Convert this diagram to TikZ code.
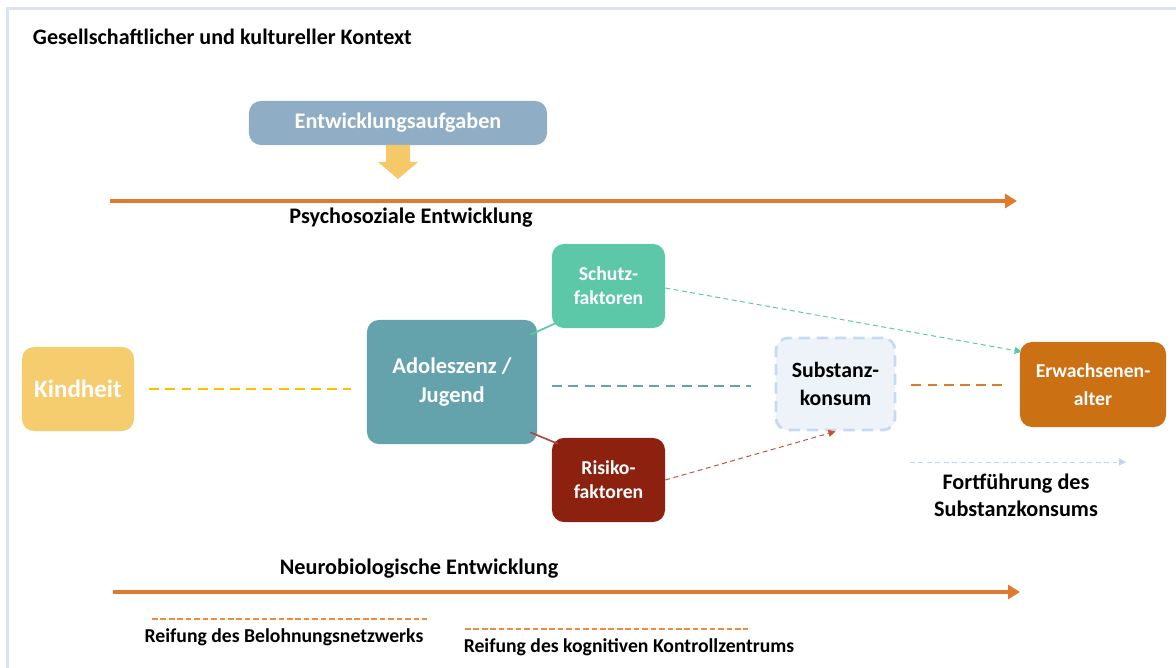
\documentclass[tikz,border=0pt]{standalone}
\usepackage{fontspec}
\setmainfont{Carlito}
\usetikzlibrary{positioning,arrows.meta}
\definecolor{framecol}{RGB}{218,227,243}
\definecolor{taskcol}{RGB}{143,173,196}
\definecolor{taskarrow}{RGB}{245,200,105}
\definecolor{devline}{RGB}{226,122,44}
\definecolor{childcol}{RGB}{245,204,110}
\definecolor{childdash}{RGB}{255,192,0}
\definecolor{youthcol}{RGB}{101,163,172}
\definecolor{protcol}{RGB}{92,200,168}
\definecolor{riskcol}{RGB}{140,33,16}
\definecolor{riskarrow}{RGB}{200,80,60}
\definecolor{substfill}{RGB}{238,243,250}
\definecolor{substdraw}{RGB}{200,218,238}
\definecolor{adultcol}{RGB}{204,112,20}
\definecolor{adultdash}{RGB}{214,126,40}
\definecolor{contcol}{RGB}{189,215,238}
\definecolor{matcol}{RGB}{240,140,60}
\tikzset{
x=0.025cm, y=-0.025cm,
every node/.style={font=\bfseries},
phase/.style={rounded corners=0.3cm, text=white, align=center, inner sep=2pt},
factor/.style={phase, minimum width=2.825cm, minimum height=2.1cm, font=\bfseries\fontsize{14}{17}\selectfont},
devarrow/.style={devline, line width=2.8pt, -{Triangle[length=0.3cm,width=0.35cm]}},
phasedash/.style={line width=1.8pt, dash pattern=on 7pt off 4.5pt},
thinarrow/.style={line width=0.7pt, dash pattern=on 3.5pt off 2.5pt, -{Triangle[length=5pt,width=5pt]}},
maturing/.style={matcol, line width=1.2pt, dash pattern=on 4pt off 2pt},
caption/.style={font=\bfseries\fontsize{15.8}{19}\selectfont},
small caption/.style={font=\bfseries\fontsize{14}{16}\selectfont},
}
\begin{document}
\begin{tikzpicture}
    \useasboundingbox (0,0) rectangle (1176,668);
    \begin{scope}
        \clip (0,0) rectangle (1176,668);
        \draw[framecol, line width=1.5pt] (7.5,8.5) rectangle (1200,700);
    \end{scope}
    \node[anchor=west, font=\bfseries\fontsize{15.7}{18}\selectfont] (context) at (28,37) {Gesellschaftlicher und kultureller Kontext};

    % tasks and psychosocial line
    \node[phase, fill=taskcol, minimum width=7.45cm, minimum height=1.1cm, font=\bfseries\fontsize{15.8}{18}\selectfont] (tasks) at (398,123) {Entwicklungsaufgaben};
    \fill[taskarrow] (386,145) -- (410,145) -- (410,162) -- (418,162) -- (398,179) -- (378,162) -- (386,162) -- cycle;
    \coordinate (psyA) at (110,201);
    \coordinate (psyB) at (1017,201);
    \draw[devarrow] (psyA) -- (psyB);
    \node[caption] (psylabel) at (411,218) {Psychosoziale Entwicklung};

    % phases
    \node[phase, fill=childcol, minimum width=2.8cm, minimum height=2.1cm, font=\bfseries\fontsize{17.8}{20}\selectfont] (child) at (78,389) {Kindheit};
    \node[phase, fill=youthcol, minimum width=4.25cm, minimum height=3.1cm, font=\bfseries\fontsize{16}{21}\selectfont] (youth) at (452,382) {Adoleszenz /\\Jugend};
    \node[factor, fill=protcol] (prot) at (608.5,286) {Schutz-\\faktoren};
    \node[factor, fill=riskcol] (risk) at (608.5,480) {Risiko-\\faktoren};
    \node[phase, fill=substfill, draw=substdraw, line width=2pt, dash pattern=on 8pt off 5pt, text=black, minimum width=2.975cm, minimum height=2.3cm, font=\bfseries\fontsize{15.5}{20}\selectfont] (subst) at (835.5,384) {Substanz-\\konsum};
    \node[phase, fill=adultcol, minimum width=3.65cm, minimum height=2.125cm, font=\bfseries\fontsize{14}{20}\selectfont] (adult) at (1093,384.5) {Erwachsenen-\\alter};

    % connectors
    \draw[childdash, phasedash] ([xshift=0.375cm]child.east) -- ([xshift=-0.4cm]youth.west |- child.east);
    \draw[youthcol, phasedash] ([xshift=0.375cm]youth.east |- 0,386) -- ([xshift=-0.6cm]subst.west |- 0,386);
    \draw[adultdash, phasedash] ([xshift=0.375cm]subst.east |- 0,385) -- ([xshift=-0.45cm]adult.west |- 0,385);
    \draw[protcol, line width=1.2pt] ([shift={(-7,15)}]youth.north east) -- ([shift={(6,-6)}]prot.south west);
    \draw[riskcol!80, line width=1.2pt] ([shift={(-7,-12)}]youth.south east) -- ([shift={(6,6)}]risk.north west);
    \draw[protcol, thinarrow] ([yshift=-0.05cm]prot.east) -- ([shift={(2,10)}]adult.north west);
    \draw[riskarrow, thinarrow] (risk.east) -- (subst.south);

    % continuation legend
    \coordinate (contA) at (910,462);
    \coordinate (contB) at (1126,462);
    \draw[contcol, thinarrow] (contA) -- (contB);
    \node[caption, align=center] (contlabel) at (1016,495) {Fortführung des\\Substanzkonsums};

    % neurobiological line
    \node[caption] (neurolabel) at (419,569) {Neurobiologische Entwicklung};
    \coordinate (neuA) at (113,592);
    \coordinate (neuB) at (1020,592);
    \draw[devarrow] (neuA) -- (neuB);
    \coordinate (rewA) at (152,619);
    \coordinate (rewB) at (427,619);
    \draw[maturing] (rewA) -- (rewB);
    \node[small caption] (rewlabel) at (284,637) {Reifung des Belohnungsnetzwerks};
    \coordinate (ctrlA) at (465,629);
    \coordinate (ctrlB) at (748,629);
    \draw[maturing] (ctrlA) -- (ctrlB);
    \node[small caption] (ctrllabel) at (629,647) {Reifung des kognitiven Kontrollzentrums};
\end{tikzpicture}
\end{document}
